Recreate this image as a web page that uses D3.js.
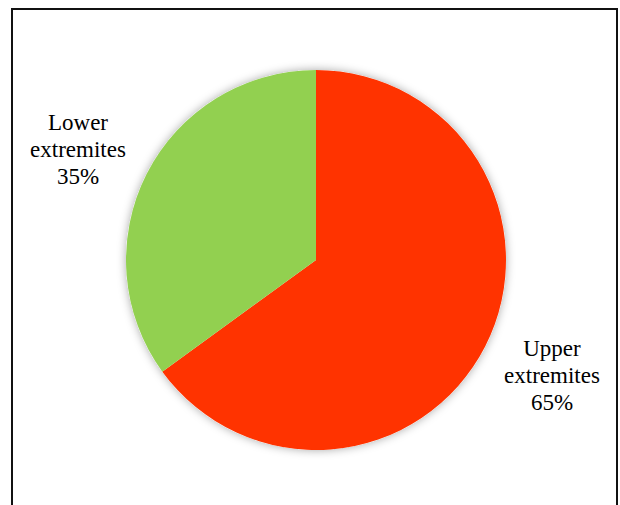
<!DOCTYPE html>
<html>
<head>
<meta charset="utf-8">
<script src="https://cdn.jsdelivr.net/npm/d3@7"></script>
<style>
  body { margin: 0; background: #fff; }
  svg { display: block; }
  .pie-label { font-family: "Liberation Serif", "DejaVu Serif", serif; font-size: 23px; fill: #000; }
</style>
</head>
<body>
<svg id="chart"></svg>
<script>
// data
const labels = ["Upper extremites", "Lower extremites"];
const shares = [65, 35];
const colors = ["#FF3300", "#92D050"];

const width = 620;
const height = 505;
const cx = 316;
const cy = 260;
const radius = 190;

const svg = d3.select("#chart")
    .attr("width", width)
    .attr("height", height);

// soft shadow under the pie
const defs = svg.append("defs");
defs.append("filter")
    .attr("id", "shadow")
    .attr("x", "-20%").attr("y", "-20%")
    .attr("width", "140%").attr("height", "140%")
  .append("feDropShadow")
    .attr("dx", 0)
    .attr("dy", 0)
    .attr("stdDeviation", 5)
    .attr("flood-color", "#000")
    .attr("flood-opacity", 0.35);

// frame
svg.append("rect")
    .attr("x", 12)
    .attr("y", 9)
    .attr("width", 605)
    .attr("height", 520)
    .attr("fill", "none")
    .attr("stroke", "#111")
    .attr("stroke-width", 2);

const pie = d3.pie().sort(null).value(d => d);
const arc = d3.arc().innerRadius(0).outerRadius(radius);

const g = svg.append("g")
    .attr("transform", `translate(${cx},${cy})`);

g.append("circle")
    .attr("r", radius)
    .attr("fill", "#fff")
    .attr("filter", "url(#shadow)");

g.selectAll("path")
    .data(pie(shares))
    .enter()
    .append("path")
        .attr("d", arc)
        .attr("fill", (d, i) => colors[i]);

// labels outside the pie
const labelPos = [[552, 356], [78, 130]];
const lineH = 27;

labels.forEach((name, i) => {
    const lines = name.split(" ").concat([shares[i] + "%"]);
    const t = svg.append("text")
        .attr("class", "pie-label")
        .attr("x", labelPos[i][0])
        .attr("y", labelPos[i][1])
        .attr("text-anchor", "middle");
    lines.forEach((s, j) => {
        t.append("tspan")
            .attr("x", labelPos[i][0])
            .attr("dy", j === 0 ? 0 : lineH)
            .text(s);
    });
});
</script>
</body>
</html>
